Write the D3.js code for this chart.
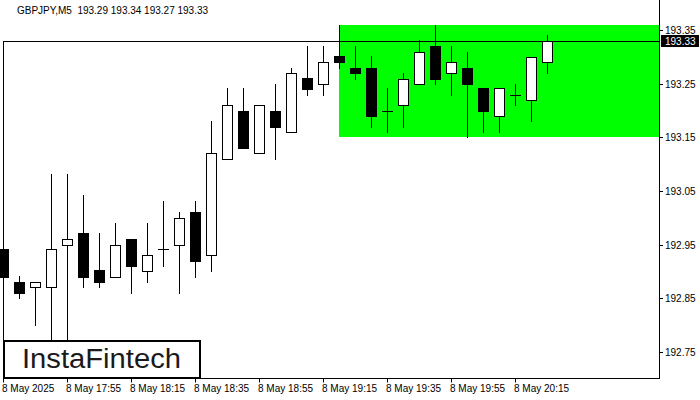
<!DOCTYPE html>
<html>
<head>
<meta charset="utf-8">
<script src="https://cdn.jsdelivr.net/npm/d3@7"></script>
<style>
  html, body { margin: 0; padding: 0; background: #fff; }
  svg { display: block; }
  text { font-family: "Liberation Sans", Arial, sans-serif; }
</style>
</head>
<body>
<svg id="chart" width="700" height="400"></svg>
<script>
// ---- data ----
const symbolTitle = "GBPJPY,M5  193.29 193.34 193.27 193.33";
const times = ["17:35","17:40","17:45","17:50","17:55","18:00","18:05","18:10","18:15","18:20",
  "18:25","18:30","18:35","18:40","18:45","18:50","18:55","19:00","19:05","19:10",
  "19:15","19:20","19:25","19:30","19:35","19:40","19:45","19:50","19:55","20:00",
  "20:05","20:10","20:15","20:20","20:25"];
const opens  = [192.941,192.881,192.871,192.871,192.950,192.971,192.902,192.890,192.961,192.901,
  192.941,192.950,193.011,192.931,193.110,193.200,193.121,193.200,193.160,193.260,
  193.250,193.301,193.280,193.280,193.199,193.211,193.250,193.321,193.270,193.280,
  193.241,193.190,193.229,193.220,193.290];
const highs  = [192.980,192.891,192.881,193.081,193.081,193.042,192.971,192.991,192.961,192.991,
  193.031,193.011,193.031,193.181,193.241,193.241,193.211,193.250,193.280,193.321,
  193.321,193.360,193.321,193.301,193.241,193.270,193.331,193.360,193.321,193.309,
  193.241,193.241,193.250,193.300,193.340];
const lows   = [192.872,192.850,192.800,192.740,192.740,192.871,192.871,192.890,192.860,192.881,
  192.910,192.860,192.890,192.901,193.110,193.131,193.121,193.110,193.160,193.229,
  193.229,193.280,193.258,193.169,193.160,193.169,193.250,193.249,193.229,193.150,
  193.160,193.160,193.210,193.180,193.270];
const closes = [192.890,192.860,192.881,192.941,192.961,192.890,192.880,192.950,192.910,192.931,
  192.941,193.000,192.919,193.121,193.211,193.131,193.211,193.169,193.270,193.240,
  193.291,193.290,193.270,193.189,193.199,193.259,193.309,193.258,193.291,193.249,
  193.200,193.241,193.229,193.300,193.330];
const xTickIndex  = [0,4,8,12,16,20,24,28,32];
const xTickLabels = ["8 May 2025","8 May 17:55","8 May 18:15","8 May 18:35","8 May 18:55",
  "8 May 19:15","8 May 19:35","8 May 19:55","8 May 20:15"];
const yTicks = [192.75,192.85,192.95,193.05,193.15,193.25,193.35];
const currentPrice = 193.33;
const zoneStartIndex = 21;
const zoneHigh = 193.360;
const zoneLow = 193.150;
const logoText = "InstaFintech";

// ---- layout ----
const svg = d3.select("#chart");
const plotLeft = 3, plotRight = 659, plotBottom = 378.5;
const x = d3.scaleLinear().domain([0, 34]).range([3.5, 547.5]);
const y = d3.scaleLinear().domain([192.75, 193.35]).range([352, 30]);
const py = v => Math.round(y(v)) + 0.5;

const candles = times.map((t, i) => ({i, t, o: opens[i], h: highs[i], l: lows[i], c: closes[i]}));

// green zone
svg.append("rect")
  .attr("x", Math.floor(x(zoneStartIndex)))
  .attr("y", Math.round(y(zoneHigh)))
  .attr("width", plotRight - Math.floor(x(zoneStartIndex)))
  .attr("height", Math.round(y(zoneLow)) - Math.round(y(zoneHigh)))
  .attr("fill", "#00ff00");

// price line
svg.append("line")
  .attr("x1", plotLeft).attr("x2", plotRight)
  .attr("y1", py(currentPrice)).attr("y2", py(currentPrice))
  .attr("stroke", "#000").attr("stroke-width", 1);

// left border
svg.append("line")
  .attr("x1", plotLeft + 0.5).attr("x2", plotLeft + 0.5)
  .attr("y1", py(currentPrice)).attr("y2", plotBottom)
  .attr("stroke", "#000").attr("stroke-width", 1);

// candles
const g = svg.append("g");
candles.forEach(d => {
  const cx = x(d.i);
  g.append("line")
    .attr("x1", cx).attr("x2", cx)
    .attr("y1", py(d.h) - 0.5).attr("y2", py(d.l) + 0.5)
    .attr("stroke", "#000").attr("stroke-width", 1);
  const top = py(Math.max(d.o, d.c));
  const bot = py(Math.min(d.o, d.c));
  if (bot - top < 1) {
    g.append("line")
      .attr("x1", cx - 5.5).attr("x2", cx + 5.5)
      .attr("y1", top).attr("y2", top)
      .attr("stroke", "#000").attr("stroke-width", 1);
  } else {
    g.append("rect")
      .attr("x", cx - 5).attr("y", top)
      .attr("width", 10).attr("height", bot - top)
      .attr("fill", d.c >= d.o ? "#fff" : "#000")
      .attr("stroke", "#000").attr("stroke-width", 1);
  }
});

// axes lines
svg.append("line")
  .attr("x1", plotRight + 0.5).attr("x2", plotRight + 0.5)
  .attr("y1", 0).attr("y2", plotBottom + 0.5)
  .attr("stroke", "#000");
svg.append("line")
  .attr("x1", plotLeft).attr("x2", plotRight + 1)
  .attr("y1", plotBottom).attr("y2", plotBottom)
  .attr("stroke", "#000");

// y axis ticks
yTicks.forEach(v => {
  const yy = py(v);
  svg.append("line").attr("x1", plotRight).attr("x2", plotRight + 4)
    .attr("y1", yy).attr("y2", yy).attr("stroke", "#000");
  svg.append("text").attr("x", 665).attr("y", yy + 3.5)
    .attr("font-size", "10px").attr("fill", "#000")
    .text(v.toFixed(2));
});

// current price tag
svg.append("rect").attr("x", 661).attr("y", Math.round(y(currentPrice)) - 6)
  .attr("width", 38).attr("height", 12).attr("fill", "#000");
svg.append("text").attr("x", 665).attr("y", Math.round(y(currentPrice)) + 4)
  .attr("font-size", "10px").attr("fill", "#fff")
  .text(currentPrice.toFixed(2));

// x axis ticks
xTickIndex.forEach((idx, k) => {
  const xx = x(idx);
  svg.append("line").attr("x1", xx).attr("x2", xx)
    .attr("y1", plotBottom).attr("y2", plotBottom + 4).attr("stroke", "#000");
  svg.append("text").attr("x", xx - 1.5).attr("y", 392)
    .attr("font-size", "10px").attr("fill", "#000")
    .text(xTickLabels[k]);
});

// title
svg.append("text").attr("x", 17).attr("y", 14)
  .attr("font-size", "10px").attr("fill", "#000")
  .style("white-space", "pre")
  .text(symbolTitle);

// logo box
svg.append("rect").attr("x", 4).attr("y", 341).attr("width", 196).attr("height", 37)
  .attr("fill", "#fff").attr("stroke", "#000").attr("stroke-width", 2);
svg.append("text").attr("x", 22).attr("y", 368)
  .attr("font-family", "Inter, 'Noto Sans', sans-serif")
  .attr("font-weight", 500)
  .attr("font-size", "27px").attr("fill", "#1a1a1a")
  .attr("textLength", 159).attr("lengthAdjust", "spacingAndGlyphs")
  .text(logoText);
</script>
</body>
</html>
